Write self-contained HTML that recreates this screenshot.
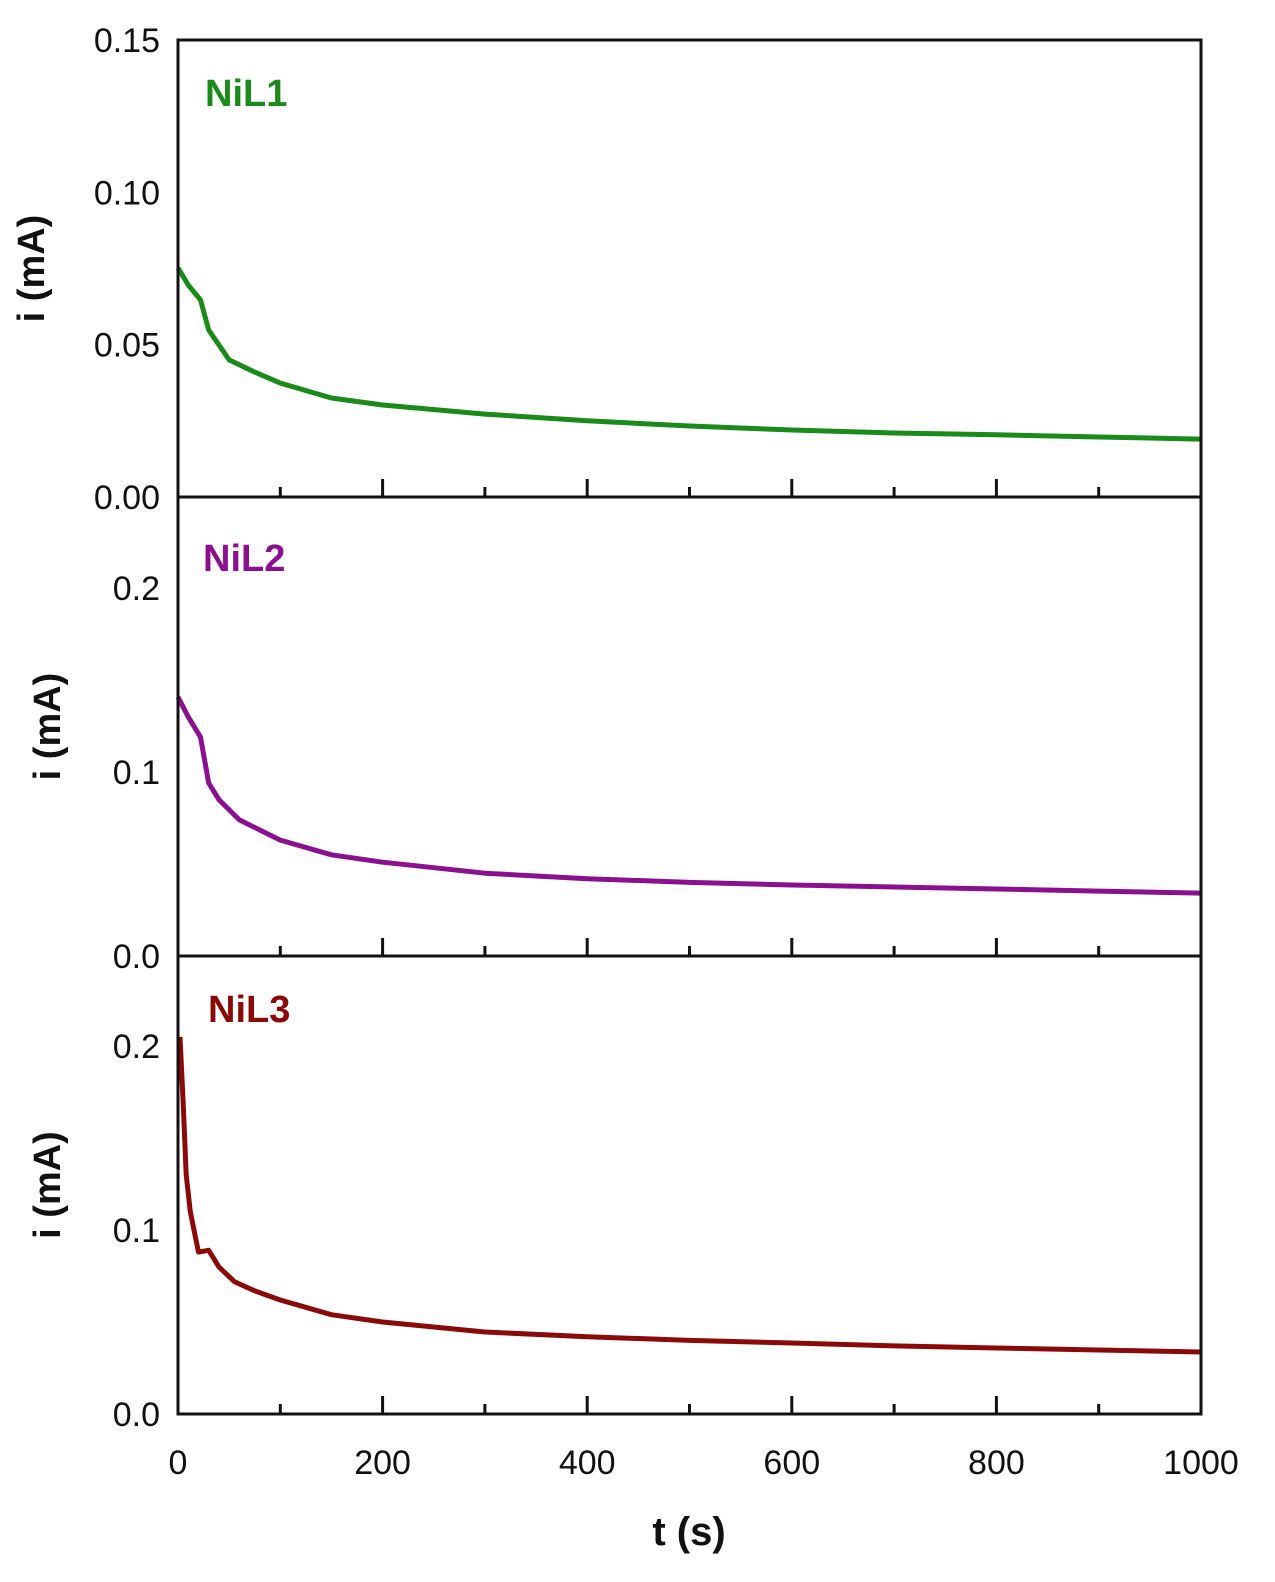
<!DOCTYPE html>
<html><head><meta charset="utf-8"><style>
html,body{margin:0;padding:0;background:#fff;}
svg{display:block;font-family:"Liberation Sans",Arial,sans-serif;}
</style></head><body>
<svg id="chart" width="1275" height="1582" viewBox="0 0 1275 1582"></svg>
<script>
const times1=[0,10,22,30,50,75,100,150,200,300,400,500,600,700,800,900,1000];
const nil1=[0.0752,0.0696,0.0647,0.0548,0.045,0.041,0.0374,0.0325,0.0302,0.0272,0.025,0.0233,0.022,0.021,0.0204,0.0197,0.019];
const times2=[0,10,22,30,40,60,80,100,150,200,300,400,500,600,700,800,900,1000];
const nil2=[0.1408,0.130,0.119,0.094,0.085,0.074,0.0685,0.063,0.055,0.051,0.045,0.042,0.040,0.0386,0.0375,0.0364,0.0353,0.0342];
const times3=[2,5,8,12,20,30,40,55,75,100,150,200,300,400,500,600,700,800,900,1000];
const nil3=[0.205,0.17,0.13,0.11,0.088,0.089,0.08,0.072,0.067,0.062,0.054,0.05,0.0446,0.042,0.040,0.0386,0.037,0.0359,0.0348,0.0337];
const xTicks=[0,200,400,600,800,1000];
const yTicks1=["0.00","0.05","0.10","0.15"];
const yTicks2=["0.0","0.1","0.2"];
const yTicks3=["0.0","0.1","0.2"];
const NS="http://www.w3.org/2000/svg";
const svg=document.getElementById('chart');
const X0=178,X1=1201;
const xs=t=>X0+(t/1000)*(X1-X0);
function mk(tag,attrs,parent){const e=document.createElementNS(NS,tag);for(const k in attrs)e.setAttribute(k,attrs[k]);(parent||svg).appendChild(e);return e;}
const panels=[
 {top:40,bot:497,max:0.15,ticks:yTicks1,t:times1,v:nil1,color:"#1a8a1a",label:"NiL1",lx:205,ly:106,name:"nil1"},
 {top:497,bot:956,max:0.2495,ticks:yTicks2,t:times2,v:nil2,color:"#8a1090",label:"NiL2",lx:203,ly:571,name:"nil2"},
 {top:956,bot:1414,max:0.249,ticks:yTicks3,t:times3,v:nil3,color:"#8a0a0a",label:"NiL3",lx:208,ly:1022,name:"nil3"}
];
panels.forEach((p,i)=>{
 const g=mk('g',{});
 
 
 const ys=v=>p.bot-(v/p.max)*(p.bot-p.top);
 p.ticks.forEach(s=>{
  const v=parseFloat(s);
  const t=mk('text',{x:160,y:ys(v)+12,'text-anchor':'end','font-size':34,fill:'#111'},g);
  t.textContent=s;
  
  
 });
 for(let t=0;t<=1000;t+=100){
  const major=t%200===0;
  const l=mk('line',{x1:xs(t),x2:xs(t),y1:p.bot,y2:p.bot-(major?18:10),stroke:'#111','stroke-width':3},g);
  
  
 }
 const d=p.t.map((t,k)=>(k?'L':'M')+xs(t).toFixed(1)+','+ys(p.v[k]).toFixed(1)).join(' ');
 const path=mk('path',{d:d,fill:'none',stroke:p.color,'stroke-width':5,'stroke-linejoin':'round'},g);
 
 
 const lb=mk('text',{x:p.lx,y:p.ly,'font-size':38,'font-weight':'bold',fill:p.color},g);
 lb.textContent=p.label;
 
 
 const cy=(p.top+p.bot)/2;
 const yt=mk('text',{x:0,y:0,transform:`translate(${i===0?44:60},${cy}) rotate(-90)`,'text-anchor':'middle','font-size':38,'font-weight':'bold',fill:'#111'},g);
 yt.textContent='i (mA)';
 
 
 const r=mk('rect',{x:X0,y:p.top,width:X1-X0,height:p.bot-p.top,fill:'none',stroke:'#111','stroke-width':3},g);
 
 
});
xTicks.forEach(t=>{
 const e=mk('text',{x:xs(t),y:1474,'text-anchor':'middle','font-size':34,fill:'#111'});
 e.textContent=t;
 
 
});
const xt=mk('text',{x:689,y:1545,'text-anchor':'middle','font-size':40,'font-weight':'bold',fill:'#111'});
xt.textContent='t (s)';


</script>
</body></html>
